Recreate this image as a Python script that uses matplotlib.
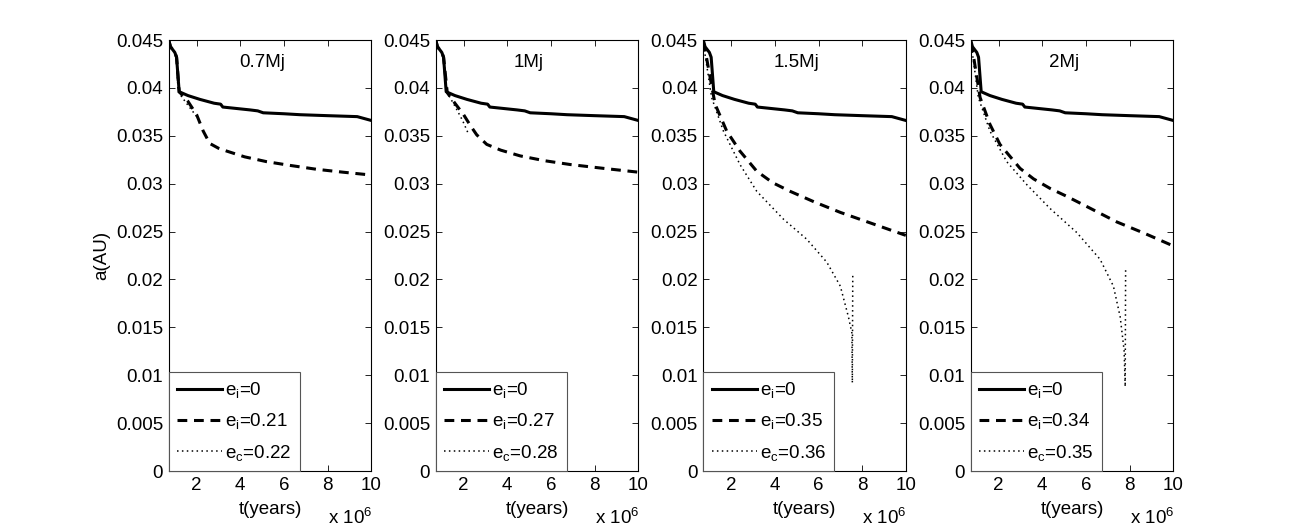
import matplotlib
matplotlib.use("Agg")
import matplotlib.pyplot as plt
from matplotlib.ticker import FuncFormatter

plt.rcParams['font.family'] = ['Liberation Sans', 'DejaVu Sans']
plt.rcParams['mathtext.fontset'] = 'custom'
plt.rcParams['mathtext.rm'] = 'Liberation Sans'
plt.rcParams['mathtext.it'] = 'Liberation Sans'

# time in units of 1e6 years
masses = ['0.7Mj', '1Mj', '1.5Mj', '2Mj']
ei_labels = ['0.21', '0.27', '0.35', '0.34']
ec_labels = ['0.22', '0.28', '0.36', '0.35']

# e_i = 0 (same in every panel)
t_zero = [0.72, 0.8, 1.0, 1.08, 1.2, 1.6, 2.15, 2.8, 3.1, 3.2, 4.45, 4.8, 5.05, 6.0, 6.74, 8.0, 9.36, 10.0]
a_zero = [0.045, 0.0443, 0.0437, 0.0432, 0.0396, 0.0392, 0.0388, 0.0384, 0.0383, 0.0380, 0.0377,
          0.0376, 0.0374, 0.0373, 0.0372, 0.0371, 0.0370, 0.0366]

# e_i > 0 (dashed)
t_ei = [
    [0.72, 0.8, 1.0, 1.08, 1.2, 1.6, 2.0, 2.3, 2.6, 3.0, 3.38, 4.2, 5.2, 6.3, 7.5, 8.7, 10.0],
    [0.72, 0.8, 1.0, 1.08, 1.25, 1.6, 2.0, 2.3, 2.6, 3.06, 3.7, 4.59, 5.7, 6.88, 8.4, 10.0],
    [0.72, 0.8, 1.0, 1.26, 1.79, 2.4, 3.17, 3.9, 4.7, 5.8, 7.0, 8.5, 10.0],
    [0.72, 0.8, 1.15, 1.6, 2.06, 2.98, 3.6, 4.36, 5.1, 5.88, 7.42, 8.7, 10.0],
]
a_ei = [
    [0.045, 0.0443, 0.0437, 0.0432, 0.0396, 0.0386, 0.0372, 0.0355, 0.0342, 0.0337, 0.0334, 0.0328,
     0.0323, 0.0319, 0.0315, 0.0312, 0.0309],
    [0.045, 0.0443, 0.0437, 0.0432, 0.0395, 0.0384, 0.0372, 0.0361, 0.0351, 0.0341, 0.0335, 0.0329,
     0.0324, 0.0320, 0.0316, 0.0312],
    [0.0448, 0.0440, 0.0415, 0.0383, 0.0355, 0.0334, 0.0313, 0.0301, 0.0292, 0.0281, 0.0270, 0.0258, 0.0246],
    [0.0447, 0.0440, 0.0390, 0.0362, 0.0341, 0.0316, 0.0305, 0.0295, 0.0287, 0.0278, 0.0260, 0.0248, 0.0235],
]

# e_c (dotted)
t_ec = [
    [0.72, 0.8, 1.0, 1.08, 1.15, 1.5, 1.8, 2.08],
    [0.72, 0.8, 1.0, 1.08, 1.25, 1.6, 1.95, 2.2],
    [0.72, 0.8, 1.1, 1.64, 2.4, 3.17, 4.39, 5.46, 6.38, 7.0, 7.37, 7.53, 7.55, 7.57],
    [0.72, 0.8, 1.07, 1.6, 2.37, 3.29, 4.36, 5.58, 6.65, 7.26, 7.57, 7.75, 7.80, 7.82],
]
a_ec = [
    [0.045, 0.0443, 0.0437, 0.0432, 0.0396, 0.0385, 0.0376, 0.0368],
    [0.045, 0.0443, 0.0437, 0.0432, 0.0395, 0.0381, 0.0366, 0.0353],
    [0.0445, 0.0435, 0.0390, 0.0355, 0.0320, 0.0292, 0.0263, 0.0242, 0.0218, 0.0193, 0.0161, 0.0144,
     0.0092, 0.0207],
    [0.0443, 0.0436, 0.0390, 0.0355, 0.0323, 0.0299, 0.0274, 0.0249, 0.0221, 0.0193, 0.0161, 0.0126,
     0.0088, 0.0213],
]

W, H = 1296, 531
fs = 13.5
fig = plt.figure(figsize=(W / 100, H / 100), dpi=100)
lefts = [168.7, 435.7, 703.3, 970.7]

for i in range(4):
    ax = fig.add_axes([lefts[i] / W, 1 - 471 / H, 202.5 / W, 431 / H])
    ax.plot(t_zero, a_zero, color='k', lw=2.2, ls='-', label='e$_\\mathregular{i}$=0')
    ax.plot(t_ei[i], a_ei[i], color='k', lw=2.2, ls=(0, (3.2, 2.2)),
            label='e$_\\mathregular{i}$=' + ei_labels[i])
    ax.plot(t_ec[i], a_ec[i], color='k', lw=1.1, ls=(0, (1, 2.2)),
            label='e$_\\mathregular{c}$=' + ec_labels[i])
    ax.set_xlim(0.72, 10)
    ax.set_ylim(0, 0.045)
    ax.set_xticks([2, 4, 6, 8, 10])
    ax.set_yticks([0.005 * k for k in range(10)])
    ax.yaxis.set_major_formatter(FuncFormatter(lambda v, p: '%g' % round(v, 3)))
    ax.tick_params(direction='in', top=True, right=True, length=4, width=0.6,
                   labelsize=fs, pad=4)
    for s in ax.spines.values():
        s.set_linewidth(0.8)
    ax.text(5, 0.0427, masses[i], ha='center', va='center', fontsize=fs)
    ax.set_xlabel('t(years)', fontsize=fs, labelpad=5)
    ax.text(1.005, -0.108, 'x 10$^\\mathregular{6}$', transform=ax.transAxes,
            ha='right', va='center', fontsize=fs)
    if i == 0:
        ax.set_ylabel('a(AU)', fontsize=fs, labelpad=4)
    leg = ax.legend(loc='lower left', borderaxespad=0, fancybox=False, fontsize=fs,
                    handlelength=2.4, labelspacing=0.6, handletextpad=0.15,
                    borderpad=0.45, framealpha=1)
    leg.get_frame().set_edgecolor('#555555')
    leg.get_frame().set_linewidth(0.8)

fig.savefig('out.png', dpi=100)
